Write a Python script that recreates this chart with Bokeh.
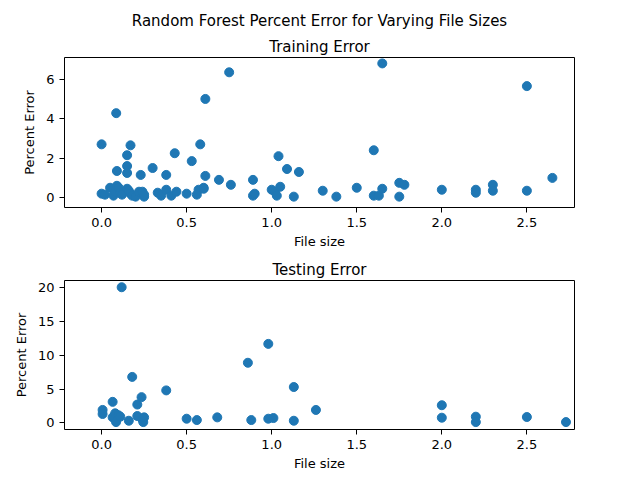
from bokeh.plotting import figure
from bokeh.layouts import column
from bokeh.models import Title, Label, FixedTicker, Range1d
from bokeh.embed import file_html
from bokeh.resources import INLINE

train_size = [0.0, 0.086, 0.09, 0.15, 0.15, 0.15, 0.17, 0.23, 0.30, 0.38, 0.43, 0.53, 0.58, 0.61, 0.61,
              0.75, 0.69, 0.76, 0.89, 0.89, 0.90, 1.04, 1.09, 1.16, 1.13, 1.0, 1.02, 1.05, 1.03,
              1.3, 1.38, 1.5, 1.6, 1.6, 1.63, 1.65, 1.65, 1.75, 1.75, 1.78, 2.0, 2.2, 2.2, 2.3, 2.3,
              2.5, 2.5, 2.65,
              0.0, 0.02, 0.05, 0.07, 0.08, 0.09, 0.1, 0.11, 0.12, 0.15, 0.16, 0.17, 0.18, 0.2, 0.22,
              0.24, 0.25, 0.25, 0.33, 0.35, 0.38, 0.41, 0.44, 0.5, 0.56, 0.57, 0.6, 0.6]
train_err = [2.7, 4.28, 1.35, 2.15, 1.6, 1.25, 2.65, 1.15, 1.5, 1.15, 2.25, 1.85, 2.7, 5.0, 1.1,
             6.35, 0.9, 0.65, 0.9, 0.1, 0.2, 2.1, 1.45, 1.3, 0.05, 0.4, 0.3, 0.55, 0.1,
             0.35, 0.05, 0.5, 2.4, 0.1, 0.1, 0.45, 6.8, 0.75, 0.05, 0.65, 0.4, 0.4, 0.25, 0.65, 0.35,
             0.35, 5.65, 1.0,
             0.2, 0.15, 0.5, 0.1, 0.3, 0.6, 0.5, 0.25, 0.15, 0.45, 0.35, 0.2, 0.1, 0.05, 0.3,
             0.3, 0.05, 0.15, 0.25, 0.1, 0.4, 0.1, 0.3, 0.2, 0.15, 0.4, 0.5, 0.45]
test_size = [0.118, 0.006, 0.006, 0.065, 0.065, 0.08, 0.085, 0.1, 0.11, 0.16, 0.18, 0.21, 0.235,
             0.21, 0.24, 0.245, 0.25, 0.38, 0.5, 0.56, 0.68, 0.86, 0.88, 0.98, 0.98, 1.01, 1.13, 1.13,
             1.26, 2.0, 2.0, 2.2, 2.2, 2.5, 2.73]
test_err = [20.1, 1.9, 1.3, 3.1, 0.8, 1.4, 0.1, 1.1, 0.9, 0.3, 6.8, 2.7, 3.8,
            1.0, 0.5, 0.1, 0.8, 4.8, 0.6, 0.4, 0.8, 8.9, 0.4, 11.7, 0.6, 0.7, 5.3, 0.3,
            1.9, 2.6, 0.75, 0.9, 0.1, 0.85, 0.1]
x_ticks = [0.0, 0.5, 1.0, 1.5, 2.0, 2.5]
x_tick_labels = ["0.0", "0.5", "1.0", "1.5", "2.0", "2.5"]

FONT = "DejaVu Sans"
COLOR = "#1f77b4"
XR = (-0.218e10, 2.78e10)


def make(title, xs, ys, yr, yticks, fh, top, bottom, exp_y, suptitle=None):
    p = figure(frame_width=510, frame_height=fh, width=624, output_backend="svg",
               toolbar_location=None, min_border_left=64, min_border_right=50,
               min_border_top=top, min_border_bottom=bottom,
               x_range=Range1d(*XR), y_range=Range1d(*yr))
    p.title = None
    p.add_layout(Title(text=title, align="center", text_font=FONT, text_font_size="15px",
                       text_color="black", text_font_style="normal", standoff=4), "above")
    if suptitle:
        p.add_layout(Title(text=suptitle, align="center", text_font=FONT, text_font_size="15px",
                           text_color="black", text_font_style="normal", standoff=8), "above")
    p.scatter([x * 1e10 for x in xs], ys, size=9, color=COLOR)
    p.xgrid.visible = False
    p.ygrid.visible = False
    p.outline_line_color = "black"
    p.outline_line_width = 1
    p.xaxis.ticker = FixedTicker(ticks=[t * 1e10 for t in x_ticks])
    p.xaxis.major_label_overrides = {t * 1e10: l for t, l in zip(x_ticks, x_tick_labels)}
    p.yaxis.ticker = FixedTicker(ticks=yticks)
    for ax in (p.xaxis[0], p.yaxis[0]):
        ax.minor_tick_line_color = None
        ax.major_tick_out = 5
        ax.major_tick_in = 0
        ax.major_tick_line_color = "black"
        ax.major_label_text_font = FONT
        ax.major_label_text_font_size = "13px"
        ax.axis_label_text_font = FONT
        ax.axis_label_text_font_size = "13px"
        ax.axis_label_text_font_style = "normal"
        ax.axis_label_text_color = "black"
        ax.axis_line_color = None
        ax.major_label_text_color = "black"
    p.xaxis.axis_label = "File size"
    p.yaxis.axis_label = "Percent Error"
    p.xaxis.axis_label_standoff = 4
    p.yaxis.axis_label_standoff = 6
    p.add_layout(Label(x=XR[1], y=exp_y, text="1e10", text_align="right",
                       text_baseline="middle", text_font=FONT, text_font_size="13px",
                       text_color="black"))
    return p


p1 = make("Training Error", train_size, train_err, (-0.5, 7.1), [0, 2, 4, 6], 150, 57, 42, -2.12,
          suptitle="Random Forest Percent Error for Varying File Sizes")
p2 = make("Testing Error", test_size, test_err, (-1.0, 21.1), [0, 5, 10, 15, 20], 149, 29, 44, -6.2)
layout = column(p1, p2, spacing=0)
open("out.html", "w").write(file_html(layout, INLINE))
